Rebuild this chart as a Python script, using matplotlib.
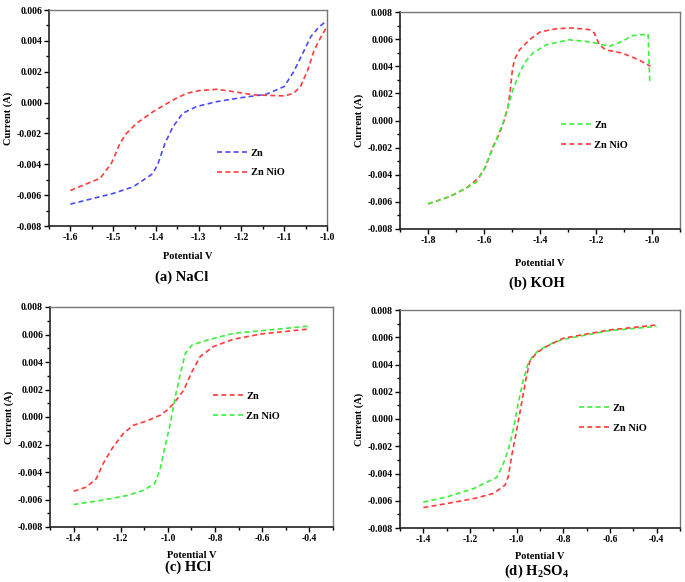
import matplotlib
matplotlib.use("Agg")
from matplotlib import pyplot as plt
from matplotlib.ticker import AutoMinorLocator, FormatStrFormatter, MultipleLocator

plt.rcParams['font.family'] = ['Liberation Serif', 'DejaVu Serif']
plt.rcParams['font.weight'] = 'bold'
plt.rcParams['axes.unicode_minus'] = False
plt.rcParams['mathtext.fontset'] = 'custom'
plt.rcParams['mathtext.bf'] = 'Liberation Serif:bold'
plt.rcParams['mathtext.rm'] = 'Liberation Serif:bold'

# (a) NaCl
nacl_zn_v = [-1.6, -1.5, -1.453, -1.407, -1.395, -1.379, -1.36, -1.337, -1.305, -1.258, -1.2,
             -1.142, -1.1, -1.078, -1.053, -1.038, -1.018, -1.0]
nacl_zn_i = [-0.00658, -0.00589, -0.00546, -0.0046, -0.00395, -0.00265, -0.00156, -0.00069,
             -0.00026, 0.00006, 0.00032, 0.00054, 0.00104, 0.002, 0.0034, 0.00427, 0.00492, 0.00531]
nacl_nio_v = [-1.6, -1.53, -1.504, -1.484, -1.469, -1.445, -1.406, -1.36, -1.328, -1.298, -1.258,
              -1.219, -1.172, -1.1, -1.078, -1.062, -1.045, -1.03, -1.014, -1.0]
nacl_nio_i = [-0.0057, -0.0049, -0.00393, -0.00264, -0.002, -0.00134, -0.00058, 0.00017, 0.0006,
              0.00078, 0.00086, 0.00071, 0.0005, 0.00043, 0.0006, 0.00104, 0.00211, 0.0034,
              0.00427, 0.00492]

# (b) KOH
koh_zn_v = [-1.8, -1.721, -1.662, -1.627, -1.6, -1.58, -1.556, -1.533, -1.514, -1.497, -1.473,
            -1.456, -1.426, -1.378, -1.296, -1.237, -1.2, -1.153, -1.13, -1.106, -1.071, -1.014,
            -1.011, -1.008]
koh_zn_i = [-0.00615, -0.0056, -0.00496, -0.00455, -0.0036, -0.0026, -0.0014, -0.0002, 0.00103,
            0.00226, 0.00349, 0.00423, 0.00497, 0.00558, 0.00595, 0.00583, 0.0057, 0.00546,
            0.00566, 0.00583, 0.00625, 0.00638, 0.00449, 0.00289]
koh_nio_v = [-1.8, -1.721, -1.662, -1.62, -1.594, -1.567, -1.544, -1.527, -1.514, -1.506, -1.5,
             -1.492, -1.473, -1.438, -1.4, -1.341, -1.282, -1.223, -1.206, -1.188, -1.165, -1.106,
             -1.047, -1.006]
koh_nio_i = [-0.00615, -0.0056, -0.00496, -0.00425, -0.0034, -0.0019, -0.00093, 0.00005, 0.00103,
             0.00226, 0.00349, 0.00447, 0.00521, 0.00595, 0.00653, 0.00677, 0.00682, 0.0067,
             0.00645, 0.00558, 0.00521, 0.00497, 0.00447, 0.00400]

# (c) HCl
hcl_zn_v = [-1.4, -1.346, -1.304, -1.275, -1.233, -1.19, -1.148, -1.091, -1.034, -1.004, -0.976,
            -0.933, -0.898, -0.863, -0.806, -0.721, -0.6, -0.4]
hcl_zn_i = [-0.0054, -0.0051, -0.00449, -0.0034, -0.00219, -0.00122, -0.00061, -0.00029, 0.00012,
            0.00049, 0.00097, 0.00195, 0.0033, 0.0044, 0.00513, 0.00566, 0.00605, 0.0064]
hcl_nio_v = [-1.4, -1.29, -1.176, -1.106, -1.057, -1.034, -1.013, -0.99, -0.969, -0.947, -0.926,
             -0.898, -0.834, -0.721, -0.6, -0.4]
hcl_nio_i = [-0.00637, -0.00608, -0.00572, -0.00535, -0.00486, -0.00389, -0.00219, -0.00049,
             0.00146, 0.00316, 0.00462, 0.00523, 0.00559, 0.00609, 0.00628, 0.00662]

# (d) H2SO4
h2so4_zn_v = [-1.4, -1.297, -1.184, -1.085, -1.057, -1.036, -1.015, -0.996, -0.975, -0.953, -0.932,
              -0.904, -0.847, -0.8, -0.6, -0.4]
h2so4_zn_i = [-0.0061, -0.00571, -0.0051, -0.00429, -0.00326, -0.00228, -0.00081, 0.00091, 0.00262,
              0.00398, 0.00458, 0.00507, 0.00556, 0.00585, 0.00649, 0.00679]
h2so4_nio_v = [-1.4, -1.297, -1.184, -1.1, -1.05, -1.036, -1.022, -1.0, -0.979, -0.961, -0.944,
               -0.916, -0.873, -0.8, -0.6, -0.4]
h2so4_nio_i = [-0.0065, -0.0062, -0.00584, -0.00547, -0.00486, -0.00424, -0.00277, -0.00081, 0.00115,
               0.00287, 0.00422, 0.00483, 0.00532, 0.00593, 0.00654, 0.0069]

blue = '#4a4aff'
red = '#ff3b3b'
green = '#3cf03c'

W, H = 685, 582
fig = plt.figure(figsize=(W / 100, H / 100), dpi=100)


def make_axes(left, right, top, bottom):
    return fig.add_axes([left / W, 1 - bottom / H, (right - left) / W, (bottom - top) / H])


def style(ax, xlim, ylim, xstep, ystep, xpad):
    ax.set_xlim(*xlim)
    ax.set_ylim(*ylim)
    ax.xaxis.set_major_locator(MultipleLocator(xstep))
    ax.yaxis.set_major_locator(MultipleLocator(ystep))
    ax.xaxis.set_minor_locator(AutoMinorLocator(2))
    ax.yaxis.set_minor_locator(AutoMinorLocator(2))
    ax.xaxis.set_major_formatter(FormatStrFormatter('%.1f'))
    ax.yaxis.set_major_formatter(FormatStrFormatter('%.3f'))
    ax.tick_params(which='both', direction='out', width=1, labelsize=7, pad=1.5)
    ax.tick_params(which='major', length=3.5)
    ax.tick_params(which='minor', length=2)
    for s in ['left', 'bottom']:
        ax.spines[s].set_linewidth(1.2)
        ax.spines[s].set_color('#222222')
    for s in ['top', 'right']:
        ax.spines[s].set_linewidth(1.0)
        ax.spines[s].set_color('#777777')
    ax.set_xlabel('Potential V', fontsize=7.5, fontweight='bold', labelpad=xpad)
    ax.set_ylabel('Current (A)', fontsize=7.5, fontweight='bold', labelpad=2.5)


def curves(ax, v1, i1, c1, l1, v2, i2, c2, l2, legend_at, top_first=False):
    kw = dict(linestyle='--', dashes=(3, 2), linewidth=1.2)
    if top_first:
        h2, = ax.plot(v2, i2, color=c2, label=l2, **kw)
        h1, = ax.plot(v1, i1, color=c1, label=l1, **kw)
    else:
        h1, = ax.plot(v1, i1, color=c1, label=l1, **kw)
        h2, = ax.plot(v2, i2, color=c2, label=l2, **kw)
    leg = ax.legend(handles=[h1, h2], loc='upper left', bbox_to_anchor=legend_at, frameon=False,
                    fontsize=7.5, handlelength=3.0, handletextpad=0.2, labelspacing=1.0,
                    borderpad=0, borderaxespad=0)
    for t in leg.get_texts():
        t.set_fontweight('bold')


ax_a = make_axes(49, 327, 10, 226)
curves(ax_a, nacl_zn_v, nacl_zn_i, blue, 'Zn', nacl_nio_v, nacl_nio_i, red, 'Zn NiO', (0.605, 0.36))
style(ax_a, (-1.65, -1.0), (-0.008, 0.006), 0.1, 0.002, 7)

ax_b = make_axes(400, 680, 12, 229)
curves(ax_b, koh_zn_v, koh_zn_i, green, 'Zn', koh_nio_v, koh_nio_i, red, 'Zn NiO', (0.575, 0.50),
       top_first=True)
style(ax_b, (-1.9, -0.9), (-0.008, 0.008), 0.2, 0.002, 10)

ax_c = make_axes(50, 333, 307, 527)
curves(ax_c, hcl_zn_v, hcl_zn_i, red, 'Zn', hcl_nio_v, hcl_nio_i, green, 'Zn NiO', (0.575, 0.615))
style(ax_c, (-1.5, -0.3), (-0.008, 0.008), 0.2, 0.002, 6)

ax_d = make_axes(400, 680, 310, 528)
curves(ax_d, h2so4_zn_v, h2so4_zn_i, green, 'Zn', h2so4_nio_v, h2so4_nio_i, red, 'Zn NiO', (0.64, 0.57))
style(ax_d, (-1.5, -0.3), (-0.008, 0.008), 0.2, 0.002, 6)

captions = [('(a) NaCl', 182, 277), ('(b) KOH', 537, 283), ('(c) HCl', 188, 567),
            (r'(d) H$_\mathbf{2}$SO$_\mathbf{4}$', 537, 571)]
for txt, cx, cy in captions:
    fig.text(cx / W, 1 - cy / H, txt, ha='center', va='center', fontsize=10.5, fontweight='bold')

fig.savefig('out.png', dpi=100)
